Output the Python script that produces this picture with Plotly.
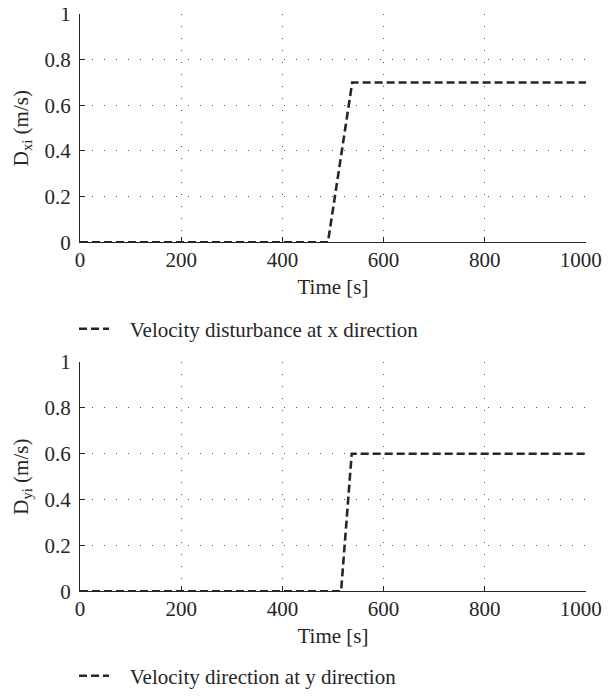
import plotly.graph_objects as go

# Data
time_x = [0, 490, 538, 1000]
dist_x = [0, 0, 0.7, 0.7]
time_y = [0, 516, 537, 1000]
dist_y = [0, 0, 0.6, 0.6]

x_ticks = [0, 200, 400, 600, 800, 1000]
x_ticklabels = ["0", "200", "400", "600", "800", "1000\u00a0\u00a0"]
y_ticks = [0, 0.2, 0.4, 0.6, 0.8, 1]
y_ticklabels = ["0", "0.2", "0.4", "0.6", "0.8", "1"]

FONT = "Liberation Serif"
INK = "#262626"
FS = 21

# page body has an 8px margin, so the figure is 8px smaller than the window
W, H = 602, 689

fig = go.Figure()
fig.add_trace(go.Scatter(
    x=time_x, y=dist_x, mode="lines",
    name="\u00a0\u00a0\u00a0Velocity disturbance at x direction",
    line=dict(color=INK, width=2.6, dash="8px,4px"), xaxis="x", yaxis="y",
    legend="legend",
))
fig.add_trace(go.Scatter(
    x=time_y, y=dist_y, mode="lines",
    name="\u00a0\u00a0\u00a0Velocity direction at y direction",
    line=dict(color=INK, width=2.6, dash="8px,4px"), xaxis="x2", yaxis="y2",
    legend="legend2",
))

xdom = [72 / W, 578 / W]
top_dom = [1 - 235 / H, 1 - 6 / H]
bot_dom = [1 - 585 / H, 1 - 355 / H]

def xax(anchor):
    return dict(
        domain=xdom, anchor=anchor, range=[0, 1000], automargin=False,
        tickmode="array", tickvals=x_ticks, ticktext=x_ticklabels,
        ticks="inside", ticklen=5, tickcolor=INK, tickwidth=1,
        showline=True, linecolor=INK, linewidth=1.2,
        showgrid=True, gridcolor="#555", gridwidth=1, griddash="1px,11px",
        zeroline=False, ticklabeloverflow="allow", ticklabelstandoff=-2,
        tickfont=dict(family=FONT, size=FS, color=INK),
        title=dict(text="Time [s]", font=dict(family=FONT, size=FS, color=INK), standoff=8),
    )

def yax(anchor, dom, title):
    return dict(
        domain=dom, anchor=anchor, range=[0, 1], automargin=False,
        tickmode="array", tickvals=y_ticks, ticktext=y_ticklabels,
        ticks="inside", ticklen=5, tickcolor=INK, tickwidth=1,
        showline=True, linecolor=INK, linewidth=1.2,
        showgrid=True, gridcolor="#555", gridwidth=1, griddash="1px,11px",
        zeroline=False, ticklabelstandoff=4, ticklabeloverflow="allow",
        tickfont=dict(family=FONT, size=FS, color=INK),
        title=dict(text=title, font=dict(family=FONT, size=FS, color=INK), standoff=10),
    )

fig.update_layout(
    width=W, height=H,
    margin=dict(l=0, r=0, t=0, b=0),
    paper_bgcolor="white", plot_bgcolor="white",
    font=dict(family=FONT, color=INK),
    xaxis=xax("y"),
    yaxis=yax("x", top_dom, "D<sub>xi</sub> (m/s)"),
    xaxis2=xax("y2"),
    yaxis2=yax("x2", bot_dom, "D<sub>yi</sub> (m/s)"),
    showlegend=True,
    legend=dict(x=66 / W, y=1 - 322 / H, xanchor="left", yanchor="middle",
                font=dict(family=FONT, size=FS, color=INK), bgcolor="rgba(0,0,0,0)",
                itemwidth=30),
    legend2=dict(x=66 / W, y=1 - 670 / H, xanchor="left", yanchor="middle",
                 font=dict(family=FONT, size=FS, color=INK), bgcolor="rgba(0,0,0,0)",
                 itemwidth=30),
)

fig.write_html("out.html")
